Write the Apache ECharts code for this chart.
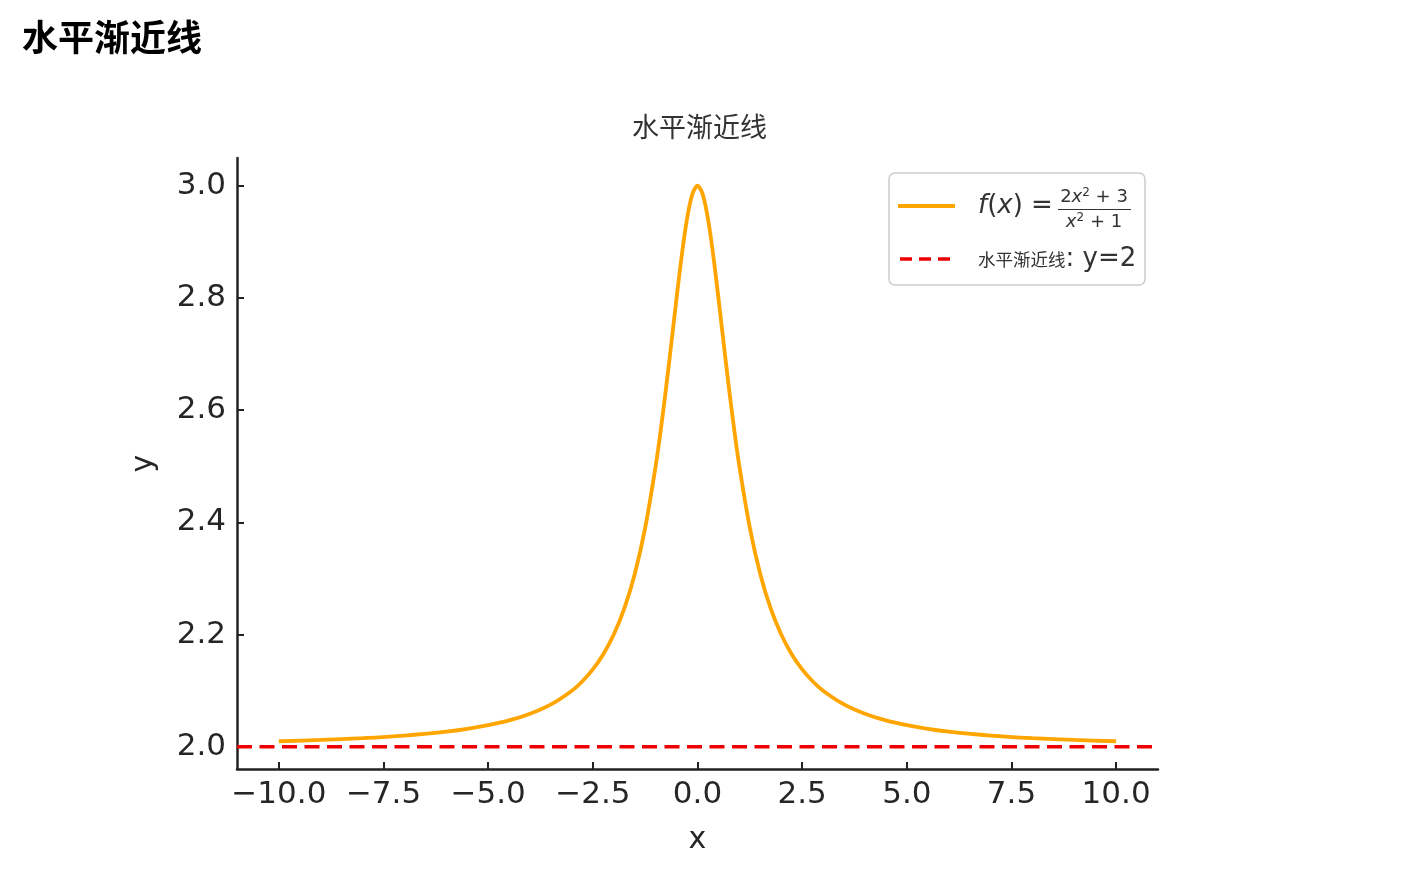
<!DOCTYPE html>
<html><head><meta charset="utf-8">
<script src="https://cdn.jsdelivr.net/npm/echarts@6/dist/echarts.min.js"></script>
<style>html,body{margin:0;padding:0;background:#fff}#c{width:1418px;height:870px}</style>
</head><body><div id="c"></div>
<script>
// Curve points
const xValues = [-10,-9,-8,-7,-6,-5.5,-5,-4.5,-4,-3.5,-3,-2.75,-2.5,-2.25,-2,-1.75,-1.5,-1.25,-1,-0.875,-0.75,-0.625,-0.5,-0.375,-0.25,-0.125,0,
  0.125,0.25,0.375,0.5,0.625,0.75,0.875,1,1.25,1.5,1.75,2,2.25,2.5,2.75,3,3.5,4,4.5,5,5.5,6,7,8,9,10];
const fValues = [2.0099,2.0122,2.0154,2.0200,2.0270,2.0320,2.0385,2.0471,2.0588,2.0755,2.1000,2.1168,2.1379,2.1649,2.2000,2.2462,2.3077,2.3902,2.5000,2.5664,2.6400,2.7191,2.8000,2.8767,2.9412,2.9846,3.0000,
  2.9846,2.9412,2.8767,2.8000,2.7191,2.6400,2.5664,2.5000,2.3902,2.3077,2.2462,2.2000,2.1649,2.1379,2.1168,2.1000,2.0755,2.0588,2.0471,2.0385,2.0320,2.0270,2.0200,2.0154,2.0122,2.0099];
const asymptoteX = [-11, 11];
const asymptoteY = [2, 2];
const xTicks = [-10,-7.5,-5,-2.5,0,2.5,5,7.5,10];
const yTicks = [2.0,2.2,2.4,2.6,2.8,3.0];

const chart = echarts.init(document.getElementById('c'));
const fmt = v => (v < 0 ? '\u2212' : '') + Math.abs(v).toFixed(1);
const axisFont = 'DejaVu Sans';
const txt = '#262626';
chart.setOption({
  animation: false,
  title: [{
    text: '水平渐近线', left: 17, top: 14,
    textStyle: {fontFamily: 'Noto Sans CJK SC', fontWeight: 'bold', fontSize: 36, color: '#000'}
  },{
    text: '水平渐近线', left: 627, top: 108,
    textStyle: {fontFamily: 'Noto Sans CJK SC', fontWeight: 'normal', fontSize: 27, color: '#333'}
  }],
  grid: {left: 237, top: 158, width: 921, height: 611},
  xAxis: {
    type: 'value', min: -11, max: 11,
    name: 'x', nameLocation: 'middle', nameGap: 56,
    nameTextStyle: {fontFamily: axisFont, fontSize: 30, color: txt},
    axisLine: {show: true, onZero: false, lineStyle: {color: '#222', width: 2.5}},
    axisTick: {show: true, inside: true, length: 7, customValues: xTicks, lineStyle: {color: '#222', width: 2}},
    axisLabel: {customValues: xTicks, formatter: fmt, margin: 10, fontFamily: axisFont, fontSize: 31, color: txt},
    splitLine: {show: false}
  },
  yAxis: {
    type: 'value', min: 1.9604, max: 3.0495,
    name: 'y', nameLocation: 'middle', nameGap: 78,
    nameTextStyle: {fontFamily: axisFont, fontSize: 30, color: txt},
    axisLine: {show: true, onZero: false, lineStyle: {color: '#222', width: 2.5}},
    axisTick: {show: true, inside: true, length: 7, customValues: yTicks, lineStyle: {color: '#222', width: 2}},
    axisLabel: {customValues: yTicks, formatter: v => v.toFixed(1), margin: 11, fontFamily: axisFont, fontSize: 31, color: txt},
    splitLine: {show: false}
  },
  series: [{
    type: 'line', name: 'f', showSymbol: false, smooth: 0.3,
    data: xValues.map((x, i) => [x, fValues[i]]),
    lineStyle: {color: '#FFA500', width: 3.8}, itemStyle: {color: '#FFA500'}, z: 3
  },{
    type: 'line', name: 'asym', showSymbol: false,
    data: asymptoteX.map((x, i) => [x, asymptoteY[i]]),
    lineStyle: {color: '#EE0000', width: 3.6, type: [15, 7.5]}, itemStyle: {color: '#EE0000'}, z: 4
  }],
  graphic: [
    {type: 'rect', shape: {x: 889, y: 173, width: 256, height: 112, r: 6},
     style: {fill: 'rgba(255,255,255,0.8)', stroke: '#cccccc', lineWidth: 1.5}, z: 10},
    {type: 'line', shape: {x1: 898, y1: 206, x2: 955, y2: 206}, style: {stroke: '#FFA500', lineWidth: 3.8}, z: 11},
    {type: 'text', x: 978, y: 206, style: {
      text: '{i|f}{n|(}{i|x}{n|)}{e| =}', verticalAlign: 'middle', fill: '#333',
      rich: {i: {fontFamily: axisFont, fontStyle: 'italic', fontSize: 26, fill: '#333'},
             n: {fontFamily: axisFont, fontSize: 26, fill: '#333'},
             e: {fontFamily: axisFont, fontSize: 26, fill: '#333'}}}, z: 11},
    {type: 'text', x: 1094, y: 197, style: {
      text: '{n|2}{i|x}{s|2}{n| + 3}', align: 'center', verticalAlign: 'middle',
      rich: {i: {fontFamily: axisFont, fontStyle: 'italic', fontSize: 18, fill: '#333'},
             n: {fontFamily: axisFont, fontSize: 18, fill: '#333'},
             s: {fontFamily: axisFont, fontSize: 12, fill: '#333', verticalAlign: 'top', padding: [0,0,8,0]}}}, z: 11},
    {type: 'line', shape: {x1: 1058, y1: 209.5, x2: 1131, y2: 209.5}, style: {stroke: '#333', lineWidth: 1}, z: 11},
    {type: 'text', x: 1094, y: 222, style: {
      text: '{i|x}{s|2}{n| + 1}', align: 'center', verticalAlign: 'middle',
      rich: {i: {fontFamily: axisFont, fontStyle: 'italic', fontSize: 18, fill: '#333'},
             n: {fontFamily: axisFont, fontSize: 18, fill: '#333'},
             s: {fontFamily: axisFont, fontSize: 12, fill: '#333', verticalAlign: 'top', padding: [0,0,8,0]}}}, z: 11},
    {type: 'line', shape: {x1: 900, y1: 259, x2: 955, y2: 259}, style: {stroke: '#EE0000', lineWidth: 3.6, lineDash: [12, 7]}, z: 11},
    {type: 'text', x: 978, y: 259, style: {
      text: '{c|水平渐近线}{n|: y=2}', verticalAlign: 'middle',
      rich: {c: {fontFamily: 'Noto Sans CJK SC', fontSize: 17.5, fill: '#333'},
             n: {fontFamily: axisFont, fontSize: 26, fill: '#333'}}}, z: 11}
  ]
});
</script></body></html>
